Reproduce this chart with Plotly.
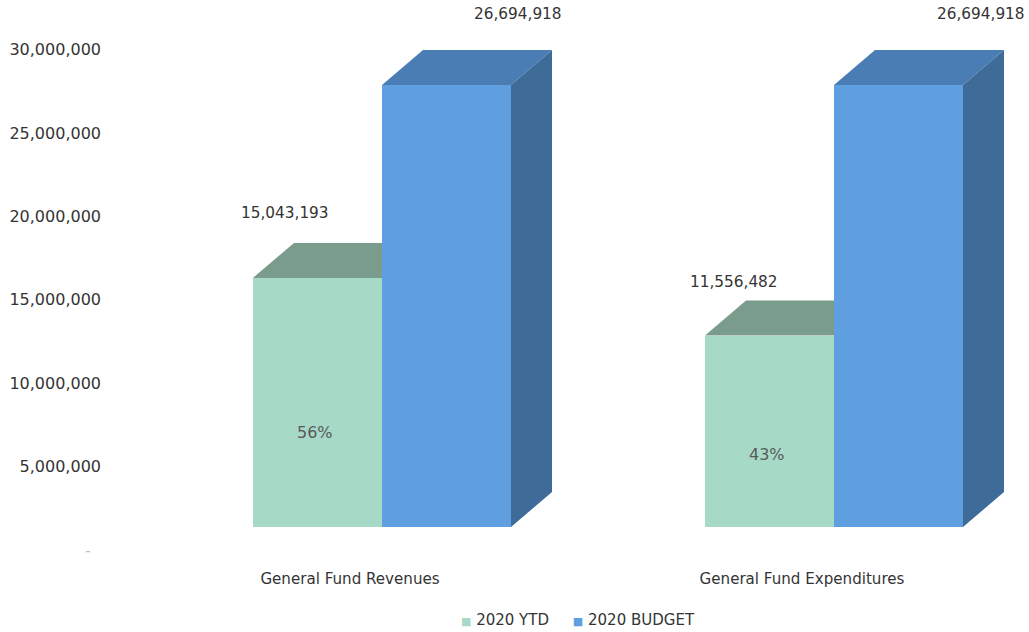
import plotly.graph_objects as go

# ---- data ----
categories = ["General Fund Revenues", "General Fund Expenditures"]
ytd_values = [15043193, 11556482]
budget_values = [26694918, 26694918]
series_names = ["2020 YTD", "2020 BUDGET"]
tick_values = [0, 5000000, 10000000, 15000000, 20000000, 25000000, 30000000]

# ---- style ----
FONT = "DejaVu Sans"
TEXT = "#343434"
GREEN_FRONT = "#a6d9c6"
GREEN_TOP = "#7a9c8c"
BLUE_FRONT = "#5f9fdf"
BLUE_TOP = "#4b7db5"
BLUE_SIDE = "#3f6b98"
series_colors = [GREEN_FRONT, BLUE_FRONT]

W, H = 1029, 632
ML, MR, MT, MB = 110, 4, 40, 72
plot_w = W - ML - MR
plot_h = H - MT - MB

# horizontal scale: group centres one unit apart, 452 px per unit
px_per_x = 452.0
x_origin_px = 382 - ML
x_range = [-x_origin_px / px_per_x, (plot_w - x_origin_px) / px_per_x]
bar_w = 129 / px_per_x

# value axis for tick labels (back wall)
tick_scale = 16.68e-6          # px per unit value
tick_zero_px = 550 - MT
y_range = [-(plot_h - tick_zero_px) / tick_scale, tick_zero_px / tick_scale]

# value axis for the front faces of the bars
bar_scale = 16.56e-6
bar_zero_px = 527 - MT
y2_range = [-(plot_h - bar_zero_px) / bar_scale, bar_zero_px / bar_scale]

# depth of the 3-D boxes
depth_x = 41 / px_per_x
depth_y = 35 / bar_scale

xs = list(range(len(categories)))
ytd_x = [i - bar_w / 2 for i in xs]
bud_x = [i + bar_w / 2 for i in xs]

fig = go.Figure()
# anchor trace so the back-wall value axis gets drawn
fig.add_trace(go.Scatter(x=[xs[0]], y=[0], mode="none", showlegend=False,
                         hoverinfo="skip", yaxis="y"))
fig.add_trace(go.Bar(
    x=ytd_x, y=ytd_values, width=bar_w, name=series_names[0],
    marker=dict(color=GREEN_FRONT, line=dict(width=0)),
    yaxis="y2", hoverinfo="skip", showlegend=False,
))
fig.add_trace(go.Bar(
    x=bud_x, y=budget_values, width=bar_w, name=series_names[1],
    marker=dict(color=BLUE_FRONT, line=dict(width=0)),
    yaxis="y2", hoverinfo="skip", showlegend=False,
))

shapes = []


def box_faces(xc, val, top_col, side_col):
    x0, x1 = xc - bar_w / 2, xc + bar_w / 2
    top = (f"M {x0},{val} L {x1},{val} L {x1 + depth_x},{val + depth_y} "
           f"L {x0 + depth_x},{val + depth_y} Z")
    shapes.append(dict(type="path", path=top, xref="x", yref="y2",
                       fillcolor=top_col, line=dict(width=0), layer="below"))
    if side_col:
        side = (f"M {x1},0 L {x1},{val} L {x1 + depth_x},{val + depth_y} "
                f"L {x1 + depth_x},{depth_y} Z")
        shapes.append(dict(type="path", path=side, xref="x", yref="y2",
                           fillcolor=side_col, line=dict(width=0), layer="below"))


for i in xs:
    box_faces(ytd_x[i], ytd_values[i], GREEN_TOP, None)
    box_faces(bud_x[i], budget_values[i], BLUE_TOP, BLUE_SIDE)

annotations = []
# value labels
ytd_shift = [(-33, 65), (-36, 54)]
bud_shift = [(71, 71), (82, 71)]
for i in xs:
    annotations.append(dict(
        x=ytd_x[i], y=ytd_values[i], xref="x", yref="y2",
        text=f"{ytd_values[i]:,}", showarrow=False,
        xshift=ytd_shift[i][0], yshift=ytd_shift[i][1],
        font=dict(family=FONT, size=15.3, color=TEXT)))
    annotations.append(dict(
        x=bud_x[i], y=budget_values[i], xref="x", yref="y2",
        text=f"{budget_values[i]:,}", showarrow=False,
        xshift=bud_shift[i][0], yshift=bud_shift[i][1],
        font=dict(family=FONT, size=15.3, color=TEXT)))
    pct = ytd_values[i] / budget_values[i]
    annotations.append(dict(
        x=ytd_x[i], y=ytd_values[i] * 0.38, xref="x", yref="y2",
        text=f"{pct:.0%}", showarrow=False, xshift=-3,
        font=dict(family=FONT, size=16, color="#5a5a5a")))

# legend row below the category labels: small coloured squares + series names
legend_items = [
    f"<span style='color:{c};font-size:11px'>■</span> {n}"
    for c, n in zip(series_colors, series_names)
]
annotations.append(dict(
    x=(578 - ML) / plot_w, y=(MT + plot_h - 620) / plot_h,
    xref="paper", yref="paper",
    text="&nbsp;&nbsp;&nbsp;&nbsp;&nbsp;".join(legend_items),
    showarrow=False, xanchor="center", yanchor="middle",
    font=dict(family=FONT, size=15, color=TEXT)))

tick_text = ["<span style='color:#c0c0c0'>-</span>&nbsp;&nbsp;"] + [f"{v:,}" for v in tick_values[1:]]

fig.update_layout(
    width=W, height=H,
    margin=dict(l=ML, r=MR, t=MT, b=MB, pad=0, autoexpand=False),
    paper_bgcolor="white", plot_bgcolor="white",
    barmode="overlay", bargap=0,
    font=dict(family=FONT, color=TEXT),
    shapes=shapes, annotations=annotations,
    xaxis=dict(range=x_range, tickvals=xs, ticktext=categories,
               showgrid=False, zeroline=False, showline=False, ticks="",
               ticklabelshift=-32, ticklabelstandoff=8, automargin=False,
               tickfont=dict(family=FONT, size=15.1, color=TEXT)),
    yaxis=dict(range=y_range, tickvals=tick_values, ticktext=tick_text,
               showgrid=False, zeroline=False, showline=False, ticks="",
               ticklabelstandoff=8, automargin=False,
               tickfont=dict(family=FONT, size=16, color=TEXT)),
    yaxis2=dict(range=y2_range, overlaying="y", visible=False),
    showlegend=False,
)

fig.write_html("out.html")
